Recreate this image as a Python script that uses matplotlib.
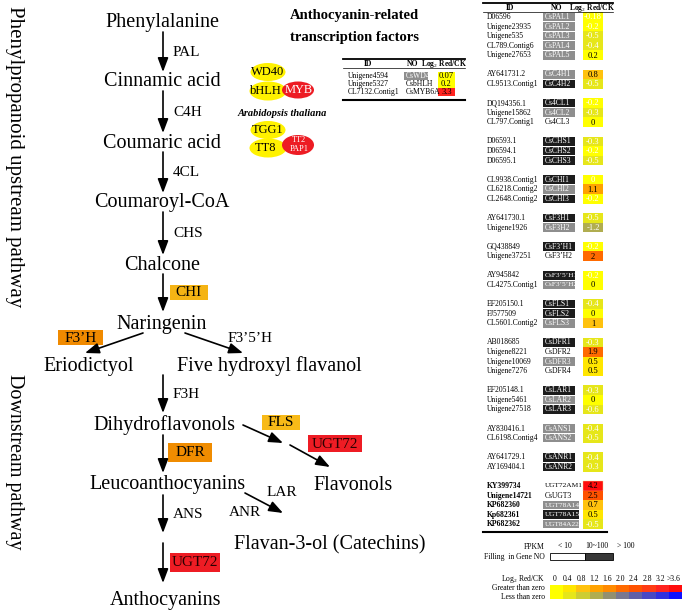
import matplotlib
matplotlib.use("Agg")
import matplotlib.pyplot as plt
from matplotlib.patches import Rectangle, Ellipse

plt.rcParams['font.family'] = ['Liberation Serif', 'DejaVu Serif']
plt.rcParams['mathtext.fontset'] = 'custom'
plt.rcParams['mathtext.rm'] = 'Liberation Serif'
plt.rcParams['mathtext.it'] = 'Liberation Serif:italic'
plt.rcParams['mathtext.bf'] = 'Liberation Serif:bold'

# ---------------- data ----------------
upstream_compounds = ["Phenylalanine", "Cinnamic acid", "Coumaric acid",
                      "Coumaroyl-CoA", "Chalcone", "Naringenin"]
upstream_enzymes = ["PAL", "C4H", "4CL", "CHS", "CHI"]
highlight_enzymes = {"CHI": "#F5B414", "F3’H": "#F08A00", "DFR": "#F08C00",
                     "FLS": "#F8BA18", "UGT72": "#EE1C24"}

tf_ids = ["Unigene4594", "Unigene5327", "CL7132.Contig1"]
tf_nos = ["CsWD40", "CsbHLH", "CsMYB6A"]
tf_fpkm = [1, 0, 0]
tf_values = [0.07, 0.2, 3.3]
tf_labels = ["0.07", "0.2", "3.3"]

group_sizes = [5, 2, 3, 3, 3, 2, 2, 2, 3, 4, 3, 2, 2, 5]
gene_ids = ["D06596", "Unigene23935", "Unigene535", "CL789.Contig6", "Unigene27653",
            "AY641731.2", "CL9513.Contig1",
            "DQ194356.1", "Unigene15862", "CL797.Contig1",
            "D06593.1", "D06594.1", "D06595.1",
            "CL9938.Contig1", "CL6218.Contig2", "CL2648.Contig2",
            "AY641730.1", "Unigene1926",
            "GQ438849", "Unigene37251",
            "AY945842", "CL4275.Contig1",
            "EF205150.1", "FJ577509", "CL5601.Contig2",
            "AB018685", "Unigene8221", "Unigene10069", "Unigene7276",
            "EF205148.1", "Unigene5461", "Unigene27518",
            "AY830416.1", "CL6198.Contig4",
            "AY641729.1", "AY169404.1",
            "KY399734", "Unigene14721", "KP682360", "Kp682361", "KP682362"]
gene_nos = ["CsPAL1", "CsPAL2", "CsPAL3", "CsPAL4", "CsPAL5",
            "CsC4H1", "CsC4H2",
            "Cs4CL1", "Cs4CL2", "Cs4CL3",
            "CsCHS1", "CsCHS2", "CsCHS3",
            "CsCHI1", "CsCHI2", "CsCHI3",
            "CsF3H1", "CsF3H2",
            "CsF3’H1", "CsF3’H2",
            "CsF3’5’H1", "CsF3’5’H2",
            "CsFLS1", "CsFLS2", "CsFLS3",
            "CsDFR1", "CsDFR2", "CsDFR3", "CsDFR4",
            "CsLAR1", "CsLAR2", "CsLAR3",
            "CsANS1", "CsANS2",
            "CsANR1", "CsANR2",
            "UGT72AM1", "CsUGT3", "UGT78A14", "UGT78A15", "UGT84A22"]
# 0: FPKM < 10 (no fill), 1: 10~100 (gray), 2: > 100 (black)
gene_fpkm = [1, 1, 1, 1, 1,
             1, 2,
             2, 1, 0,
             2, 2, 2,
             2, 1, 2,
             2, 1,
             2, 0,
             2, 1,
             2, 2, 1,
             2, 0, 1, 0,
             2, 1, 2,
             1, 1,
             2, 2,
             0, 0, 1, 2, 1]
gene_values = [-0.18, -0.2, -0.5, -0.4, 0.2,
               0.8, -0.5,
               -0.2, -0.3, 0.0,
               -0.3, -0.2, -0.5,
               -0.04, 1.1, -0.2,
               -0.5, -1.2,
               -0.2, 2.0,
               -0.2, 0.0,
               -0.4, 0.0, 1.0,
               -0.3, 1.9, 0.5, 0.5,
               -0.3, 0.0, -0.6,
               -0.4, -0.5,
               -0.4, -0.3,
               4.2, 2.5, 0.7, 0.5, -0.5]
gene_labels = ["-0.18", "-0.2", "-0.5", "-0.4", "0.2",
               "0.8", "-0.5",
               "-0.2", "-0.3", "0",
               "-0.3", "-0.2", "-0.5",
               "0", "1.1", "-0.2",
               "-0.5", "-1.2",
               "-0.2", "2",
               "-0.2", "0",
               "-0.4", "0", "1",
               "-0.3", "1.9", "0.5", "0.5",
               "-0.3", "0", "-0.6",
               "-0.4", "-0.5",
               "-0.4", "-0.3",
               "4.2", "2.5", "0.7", "0.5", "-0.5"]
bold_id_group = 13  # UGT group ids in bold

scale_ticks = ["0", "0.4", "0.8", "1.2", "1.6", "2.0", "2.4", "2.8", "3.2", ">3.6"]
pos_colors = ['#FFFF00', '#FFE600', '#FFC20E', '#FFA200', '#FF8A00',
              '#FF6A00', '#FF5200', '#FF3C14', '#FF2420', '#FF0C0C']
neg_colors = ['#FFFF00', '#E6E61A', '#CDCD33', '#B0AD50', '#939070',
              '#7A7890', '#6060A8', '#4848C4', '#3030E0', '#1010FF']
fpkm_fill = ['none', '#8E8E8E', '#1C1C1C']
fpkm_labels = ["< 10", "10~100", "> 100"]


def value_color(v):
    idx = min(int(round(abs(v) / 0.4)), 9)
    return pos_colors[idx] if v >= 0 else neg_colors[idx]


# ---------------- figure ----------------
fig = plt.figure(figsize=(6.85, 6.14), dpi=100)
ax = fig.add_axes([0, 0, 1, 1])
ax.set_xlim(0, 685)
ax.set_ylim(614, 0)
ax.axis('off')

FS_C = 14.5  # compounds
FS_E = 11    # enzymes
FS_T = 5.5   # table
FS_V = 6.1   # values


def arrow(x0, y0, x1, y1):
    ax.annotate('', xy=(x1, y1), xytext=(x0, y0),
                arrowprops=dict(arrowstyle='-|>,head_length=0.85,head_width=0.32',
                                color='black', lw=1.2, shrinkA=0, shrinkB=0,
                                mutation_scale=10))


def enzyme(name, x, y, box=None, ha='left'):
    if box is not None:
        bx0, by0, bx1, by1 = box
        ax.add_patch(Rectangle((bx0, by0), bx1 - bx0, by1 - by0,
                               fc=highlight_enzymes[name], ec='none'))
        tc = '#2a0000' if name == 'UGT72' else 'black'
        ax.text((bx0 + bx1) / 2, (by0 + by1) / 2 + 0.5, name, fontsize=FS_E,
                ha='center', va='center', color=tc)
    else:
        ax.text(x, y, name, fontsize=FS_E, ha=ha, va='center')


# side titles
ax.text(14, 157, "Phenylpropanoid upstream pathway", rotation=-90,
        fontsize=15, ha='center', va='center')
ax.text(14, 462, "Downstream pathway", rotation=-90,
        fontsize=14.5, ha='center', va='center')

# upstream chain
MX = 163
up_y = [23, 82, 143, 203, 265, 325]
for name, y in zip(upstream_compounds, up_y):
    ax.text(MX - 1, y, name, fontsize=FS_C, ha='center', va='center')
for i, ez in enumerate(upstream_enzymes):
    y0 = up_y[i] + 9
    y1 = up_y[i + 1] - (10 if i < 4 else 13)
    arrow(MX, y0, MX, y1)
    if ez == "CHI":
        enzyme(ez, 0, 0, box=(170, 285, 208, 300))
    else:
        enzyme(ez, 173, (y0 + y1) / 2)

# downstream
ax.text(89, 366, "Eriodictyol", fontsize=FS_C, ha='center', va='center')
ax.text(269, 366, "Five hydroxyl flavanol", fontsize=FS_C, ha='center', va='center')
ax.text(164, 425, "Dihydroflavonols", fontsize=FS_C, ha='center', va='center')
ax.text(168, 485, "Leucoanthocyanins", fontsize=FS_C, ha='center', va='center')
ax.text(353, 485, "Flavonols", fontsize=FS_C, ha='center', va='center')
ax.text(330, 545, "Flavan-3-ol (Catechins)", fontsize=FS_C, ha='center', va='center')
ax.text(166, 600, "Anthocyanins", fontsize=FS_C, ha='center', va='center')

arrow(143, 333, 85, 353)
enzyme("F3’H", 0, 0, box=(58, 330, 103, 345))
arrow(185, 333, 243, 353)
enzyme("F3’5’H", 250, 338, ha='center')
arrow(MX, 375, MX, 413)
enzyme("F3H", 173, 395)
arrow(MX, 435, MX, 473)
enzyme("DFR", 0, 0, box=(168, 443, 212, 462))
arrow(MX, 495, MX, 533)
enzyme("ANS", 173, 515)
arrow(MX, 543, MX, 583)
enzyme("UGT72", 0, 0, box=(170, 553, 220, 572))
arrow(243, 425, 283, 443)
enzyme("FLS", 0, 0, box=(262, 415, 300, 430))
arrow(290, 445, 330, 467)
enzyme("UGT72", 0, 0, box=(308, 435, 362, 452))
arrow(245, 493, 283, 513)
enzyme("LAR", 282, 493, ha='center')
enzyme("ANR", 245, 512, ha='center')

# transcription factor complex
ax.text(290, 15, "Anthocyanin-related", fontsize=10.5, fontweight='bold',
        ha='left', va='center')
ax.text(290, 38, "transcription factors", fontsize=10.5, fontweight='bold',
        ha='left', va='center')
YEL = '#FFF200'
RED = '#ED1C24'
ax.add_patch(Ellipse((268, 72), 35, 18, fc=YEL, ec='none'))
ax.add_patch(Ellipse((268, 91), 37, 19, fc=YEL, ec='none'))
ax.add_patch(Ellipse((298, 90), 32, 17, fc=RED, ec='none'))
ax.text(268, 72, "WD40", fontsize=9, ha='center', va='center')
ax.text(266, 91, "bHLH", fontsize=9, ha='center', va='center')
ax.text(299, 90, "MYB", fontsize=9, ha='center', va='center', color='white')
ax.text(282, 113, "Arabidopsis thaliana", fontsize=7.5, fontweight='bold',
        style='italic', ha='center', va='center')
ax.add_patch(Ellipse((268, 130), 35, 18, fc=YEL, ec='none'))
ax.add_patch(Ellipse((268, 148), 37, 19, fc=YEL, ec='none'))
ax.add_patch(Ellipse((298, 145), 32, 20, fc=RED, ec='none'))
ax.text(268, 130, "TGG1", fontsize=9, ha='center', va='center')
ax.text(266, 148, "TT8", fontsize=9, ha='center', va='center')
ax.text(299, 140, "TT2", fontsize=6, ha='center', va='center', color='white')
ax.text(299, 149, "PAP1", fontsize=6, ha='center', va='center', color='white')

# TF table
ax.plot([343, 465], [59, 59], color='black', lw=1.3)
ax.plot([343, 465], [68, 68], color='black', lw=0.5)
ax.plot([343, 465], [100, 100], color='black', lw=1.5)
ax.text(368, 63.5, "ID", fontsize=FS_T, fontweight='bold', ha='center', va='center')
ax.text(413, 63.5, "NO", fontsize=FS_T, fontweight='bold', ha='center', va='center')
ax.text(444, 63.5, r"Log$_2$ Red/CK", fontsize=FS_T, fontweight='bold',
        ha='center', va='center')
tf_y = [76, 84, 92]
for tid, tno, fp, v, lab, y in zip(tf_ids, tf_nos, tf_fpkm, tf_values, tf_labels, tf_y):
    ax.text(348, y, tid, fontsize=FS_T, ha='left', va='center')
    if fp > 0:
        ax.add_patch(Rectangle((404.5, y - 3.8), 24, 7.6, fc=fpkm_fill[fp], ec='none'))
    ax.text(405.5, y, tno, fontsize=FS_T, ha='left', va='center',
            color='white' if fp > 0 else 'black')
    ax.add_patch(Rectangle((438, y - 4), 17, 8, fc=value_color(v), ec='none'))
    ax.text(446.5, y, lab, fontsize=FS_V, ha='center', va='center',
            color='white' if v < 0 else 'black')

# gene table
Y0 = 17.0
PITCH = 9.57
slots = []
s = 0
for gi, n in enumerate(group_sizes):
    for k in range(n):
        slots.append((s, gi))
        s += 1
    s += 1
ax.plot([483, 613], [3, 3], color='black', lw=1.3)
ax.plot([483, 613], [12, 12], color='black', lw=0.5)
ax.plot([483, 607], [532, 532], color='black', lw=1.5)
ax.text(510, 7.5, "ID", fontsize=FS_T, fontweight='bold', ha='center', va='center')
ax.text(557, 7.5, "NO", fontsize=FS_T, fontweight='bold', ha='center', va='center')
ax.text(592, 7.5, r"Log$_2$ Red/CK", fontsize=FS_T, fontweight='bold',
        ha='center', va='center')
for (slot, gi), gid, gno, fp, v, lab in zip(slots, gene_ids, gene_nos, gene_fpkm,
                                            gene_values, gene_labels):
    y = Y0 + slot * PITCH
    ax.text(487, y, gid, fontsize=FS_T, ha='left', va='center',
            fontweight='bold' if gi == bold_id_group else 'normal')
    long_no = len(gno) > 7
    bw = 36 if gno.startswith("UGT") else 32
    if fp > 0:
        ax.add_patch(Rectangle((543, y - PITCH / 2 + 0.5), bw, PITCH - 1,
                               fc=fpkm_fill[fp], ec='none'))
    ax.text(544.5, y, gno, fontsize=5.3 if long_no else FS_T, ha='left', va='center',
            color='white' if fp > 0 else 'black')
    ax.add_patch(Rectangle((583, y - PITCH / 2), 20, PITCH,
                           fc=value_color(v), ec='#E8D890' if v > 3 else 'none', lw=0.3))
    ax.text(593, y + 0.3, lab, fontsize=FS_V, ha='center', va='center',
            color='white' if v < 0 else 'black')

# FPKM legend
ax.text(545, 547, "FPKM", fontsize=FS_T, ha='right', va='center')
ax.text(545, 557, "Filling  in Gene NO", fontsize=FS_T, ha='right', va='center')
for lab, x in zip(fpkm_labels, [565, 597, 626]):
    ax.text(x, 546, lab, fontsize=FS_T, ha='center', va='center')
ax.add_patch(Rectangle((550, 553), 35, 7, fc='white', ec='black', lw=0.6))
ax.add_patch(Rectangle((585, 553), 28, 7, fc='#383838', ec='black', lw=0.6))

# Log2 colour legend
ax.text(545, 579, r"Log$_2$ Red/CK", fontsize=FS_T, ha='right', va='center')
ax.text(545, 588, "Greater than zero", fontsize=FS_T, ha='right', va='center')
ax.text(545, 597, "Less than zero", fontsize=FS_T, ha='right', va='center')
CW = (682 - 550) / 10
for i, (t, pc, nc) in enumerate(zip(scale_ticks, pos_colors, neg_colors)):
    x = 550 + i * CW
    ax.add_patch(Rectangle((x, 585), CW, 7, fc=pc, ec='none'))
    ax.add_patch(Rectangle((x, 592), CW, 7, fc=nc, ec='none'))
    ax.text(x + CW / 2 - 2, 579, t, fontsize=FS_T, ha='center', va='center')

fig.savefig("out.png", dpi=100)
